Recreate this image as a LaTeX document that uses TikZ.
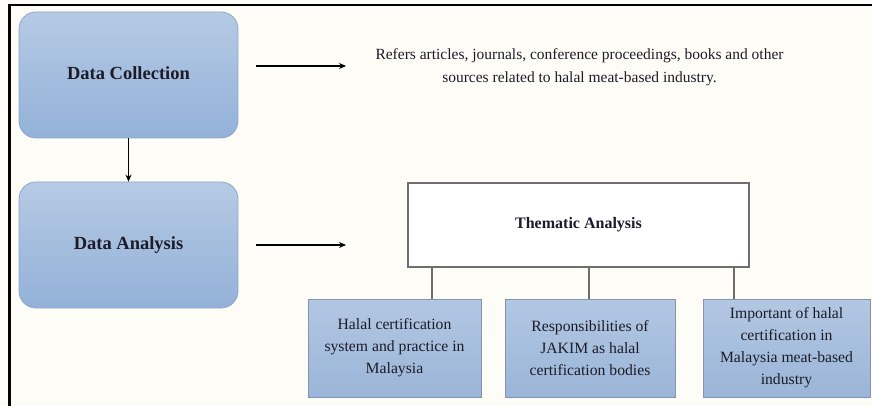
\documentclass[tikz,border=0pt]{standalone}
\usepackage{fontspec}
\setmainfont{LiberationSerif}[Extension=.ttf, UprightFont=*-Regular, BoldFont=*-Bold, ItalicFont=*-Italic, BoldItalicFont=*-BoldItalic]
\usetikzlibrary{arrows.meta}
\definecolor{bg}{HTML}{FDFCF7}
\definecolor{boxtop}{HTML}{B6CAE4}
\definecolor{boxbot}{HTML}{93B1D8}
\definecolor{boxedge}{HTML}{8DA7CB}
\definecolor{subtop}{HTML}{B2C7E2}
\definecolor{subbot}{HTML}{9BB5D8}
\definecolor{subedge}{HTML}{8494AC}
\definecolor{ink}{HTML}{1C1C28}
\definecolor{grayline}{HTML}{6E6E6E}
\tikzset{
  databox/.style={rounded corners=17pt, top color=boxtop, bottom color=boxbot,
    draw=boxedge, line width=0.8pt, minimum width=219pt, minimum height=126pt,
    font=\fontsize{18.5}{22}\selectfont\bfseries, text=ink, inner sep=0pt},
  thembox/.style={draw=grayline, line width=1.4pt, fill=white, minimum width=341pt,
    minimum height=84pt, font=\fontsize{16}{20}\selectfont\bfseries, text=ink, inner sep=0pt},
  subbox/.style={top color=subtop, bottom color=subbot, draw=subedge, line width=0.8pt,
    minimum height=98pt, align=center, text=ink, inner sep=0pt,
    font=\fontsize{15.7}{22}\selectfont},
  arr/.style={-{Stealth[length=7pt,width=6pt]}, line width=1.3pt, black},
  stem/.style={draw=grayline, line width=1.3pt},
  desc/.style={align=center, text=ink, font=\fontsize{15.5}{23}\selectfont, inner sep=0pt}
}
\begin{document}
\begin{tikzpicture}[x=1pt,y=-1pt]
\fill[bg] (0,0) rectangle (872,406);
\useasboundingbox (0,0) rectangle (872,406);
\draw[line width=2.6pt, black] (9.6,406) -- (9.6,5) -- (872,5);

\node[databox] (dc) at (128.5,75) {\raisebox{4pt}{Data Collection}};
\node[databox] (da) at (128.5,245) {\raisebox{2pt}{Data Analysis}};

\node[desc] (refs) at (579.5,67.5) {Refers articles, journals, conference proceedings, books and other\\sources related to halal meat-based industry.};

\node[thembox] (ta) at (578.5,225) {Thematic Analysis};

\node[subbox, minimum width=173pt] (b1) at (394.5,348) {Halal certification\\system and practice in\\Malaysia};
\node[subbox, minimum width=170pt] (b2) at (590,348) {Responsibilities of\\JAKIM as halal\\certification bodies};
\node[subbox, minimum width=167pt] (b3) at (786.5,348) {Important of halal\\certification in\\Malaysia meat-based\\industry};

\coordinate (a1s) at (256,66);
\coordinate (a1e) at (346,66);
\coordinate (a2s) at (256,245);
\coordinate (a2e) at (346,245);
\coordinate (l1) at (432,0);
\coordinate (l2) at (589,0);
\coordinate (l3) at (734,0);

\draw[arr] (dc.south) -- (da.north);
\draw[arr] (a1s) -- (a1e);
\draw[arr] (a2s) -- (a2e);
\draw[stem] (ta.south -| l1) -- (b1.north -| l1);
\draw[stem] (ta.south -| l2) -- (b2.north -| l2);
\draw[stem] (ta.south -| l3) -- (b3.north -| l3);
\end{tikzpicture}
\end{document}
